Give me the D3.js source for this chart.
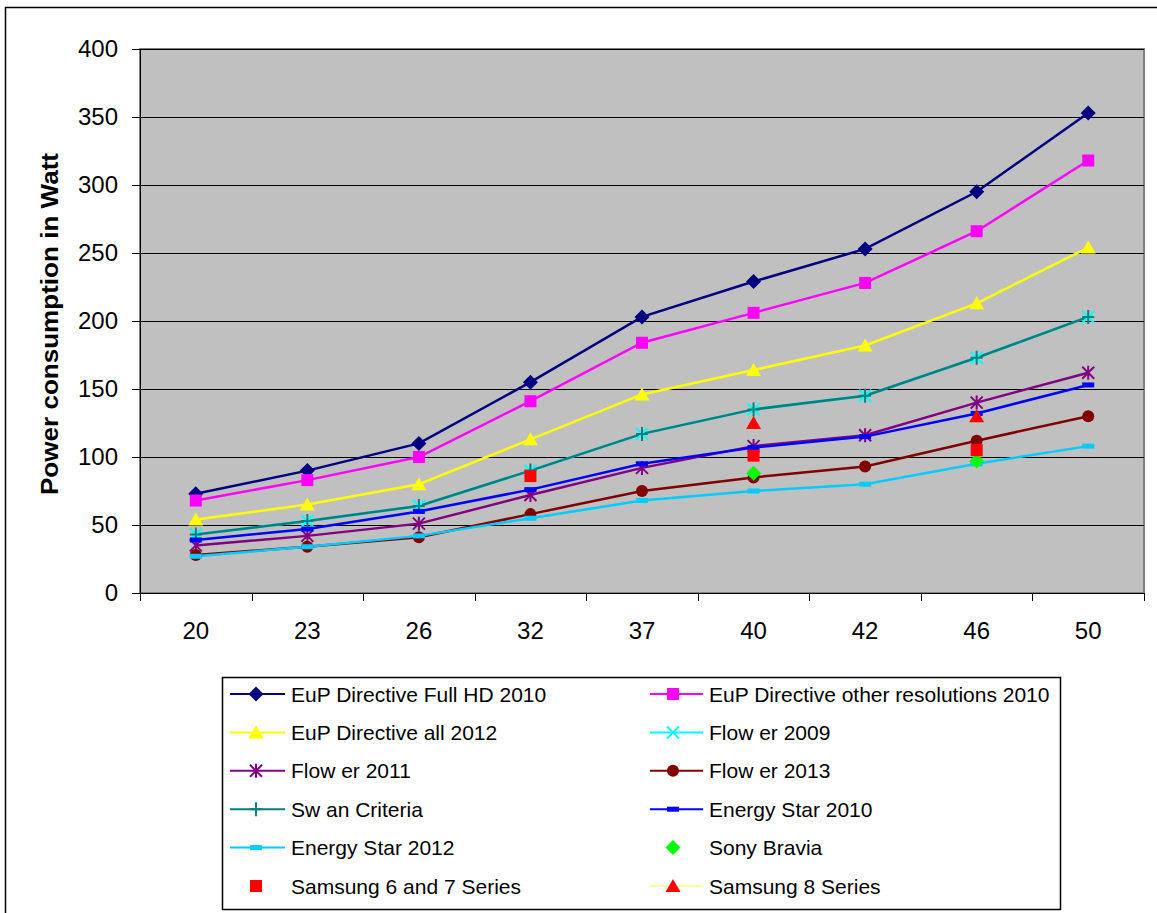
<!DOCTYPE html>
<html><head><meta charset="utf-8">
<script src="https://cdn.jsdelivr.net/npm/d3@7"></script>
<style>body{margin:0;background:#fff;}svg{display:block;font-family:Arial,"Liberation Sans",sans-serif;}</style>
</head><body><svg id="c" width="1157" height="913"></svg>
<script>
const categories = ["20","23","26","32","37","40","42","46","50"];
const yTicks = [0,50,100,150,200,250,300,350,400];
const eupFullHD2010 = [73,90,110,155,203,229,253,295,353];
const eupOther2010 = [68,83,100,141,184,206,228,266,318];
const eupAll2012 = [54,65,80,113,146,164,182,213,254];
const flower2009 = [43,53,64,90,117,135,145,173,203];
const flower2011 = [35,42,51,72,92,108,116,140,162];
const flower2013 = [28,34,41,58,75,85,93,112,130];
const swan = [43,53,64,90,117,135,145,173,203];
const es2010 = [39,47,60,76,95,107,115,132,153];
const es2012 = [27,34,42,55,68,75,80,95,108];
const sonyBravia = [null,null,null,null,null,88,null,97,null];
const samsung67 = [null,null,null,86,null,101,null,105,null];
const samsung8 = [null,null,null,null,null,125,null,130,null];

const series = [
 {name:"EuP Directive Full HD 2010", data:eupFullHD2010, color:"#000080", marker:"diamond", mcolor:"#000080", line:true},
 {name:"EuP Directive other resolutions 2010", data:eupOther2010, color:"#FF00FF", marker:"square", mcolor:"#FF00FF", line:true},
 {name:"EuP Directive all 2012", data:eupAll2012, color:"#FFFF00", marker:"triangle", mcolor:"#FFFF00", line:true},
 {name:"Flow er 2009", data:flower2009, color:"#00FFFF", marker:"x", mcolor:"#00FFFF", line:true},
 {name:"Flow er 2011", data:flower2011, color:"#800080", marker:"star", mcolor:"#800080", line:true},
 {name:"Flow er 2013", data:flower2013, color:"#800000", marker:"circle", mcolor:"#800000", line:true},
 {name:"Sw an Criteria", data:swan, color:"#008080", marker:"plus", mcolor:"#008080", line:true},
 {name:"Energy Star 2010", data:es2010, color:"#0000FF", marker:"dash", mcolor:"#0000FF", line:true},
 {name:"Energy Star 2012", data:es2012, color:"#00CCFF", marker:"dash", mcolor:"#00CCFF", line:true},
 {name:"Sony Bravia", data:sonyBravia, color:"none", marker:"diamond", mcolor:"#00FF00", line:false},
 {name:"Samsung 6 and 7 Series", data:samsung67, color:"none", marker:"square", mcolor:"#FF0000", line:false},
 {name:"Samsung 8 Series", data:samsung8, color:"#FFFF99", marker:"triangle", mcolor:"#FF0000", line:true}
];

const svg = d3.select("#c");
svg.append("rect").attr("x",5.5).attr("y",7.5).attr("width",1160).attr("height",920)
  .attr("fill","#fff").attr("stroke","#000").attr("stroke-width",1.5);

const L=140, R=1144, T=49, B=593;
const x = d3.scaleBand().domain(categories).range([L,R]);
const y = d3.scaleLinear().domain([0,400]).range([B,T]);

svg.append("rect").attr("x",L).attr("y",T).attr("width",R-L).attr("height",B-T)
  .attr("fill","#C0C0C0").attr("stroke","#808080").attr("stroke-width",2);

svg.append("g").selectAll("line").data(yTicks.filter(d=>d>0)).join("line")
  .attr("x1",L).attr("x2",R).attr("y1",d=>Math.round(y(d))+0.5).attr("y2",d=>Math.round(y(d))+0.5)
  .attr("stroke","#000").attr("stroke-width",1);

const ya = svg.append("g").attr("transform",`translate(${L},0)`)
  .call(d3.axisLeft(y).tickValues(yTicks).tickSize(8).tickPadding(14));
ya.select(".domain").attr("stroke","#000");
ya.selectAll("text").attr("font-size",24).attr("fill","#000").attr("font-family","Arial,'Liberation Sans',sans-serif");

svg.append("line").attr("x1",L).attr("x2",R).attr("y1",B+0.5).attr("y2",B+0.5).attr("stroke","#000");
const xb = categories.map(c=>x(c)).concat([R]);
svg.append("g").selectAll("line").data(xb).join("line")
  .attr("x1",d=>Math.round(d)+0.5).attr("x2",d=>Math.round(d)+0.5).attr("y1",B).attr("y2",B+8).attr("stroke","#000");
svg.append("g").selectAll("text").data(categories).join("text")
  .attr("x",d=>x(d)+x.bandwidth()/2).attr("y",639).attr("text-anchor","middle")
  .attr("font-size",24).attr("fill","#000").text(d=>d);

svg.append("text").attr("transform","translate(58,324) rotate(-90)").attr("text-anchor","middle")
  .attr("font-size",24).attr("font-weight","bold").attr("fill","#000")
  .attr("textLength",342).attr("lengthAdjust","spacingAndGlyphs").text("Power consumption in Watt");

function drawMarker(g, type, cx, cy, color, s){
  s = s||1;
  if(type==="diamond"){
    g.append("path").attr("d",`M${cx},${cy-7.5*s}L${cx+7.5*s},${cy}L${cx},${cy+7.5*s}L${cx-7.5*s},${cy}Z`).attr("fill",color);
  } else if(type==="square"){
    g.append("rect").attr("x",cx-6*s).attr("y",cy-6*s).attr("width",12*s).attr("height",12*s).attr("fill",color);
  } else if(type==="triangle"){
    g.append("path").attr("d",`M${cx},${cy-7*s}L${cx+7.5*s},${cy+6*s}L${cx-7.5*s},${cy+6*s}Z`).attr("fill",color);
  } else if(type==="circle"){
    g.append("circle").attr("cx",cx).attr("cy",cy).attr("r",6*s).attr("fill",color);
  } else if(type==="x"){
    g.append("path").attr("d",`M${cx-6},${cy-6}L${cx+6},${cy+6}M${cx-6},${cy+6}L${cx+6},${cy-6}`).attr("stroke",color).attr("stroke-width",2);
  } else if(type==="star"){
    g.append("path").attr("d",`M${cx-6},${cy-6}L${cx+6},${cy+6}M${cx-6},${cy+6}L${cx+6},${cy-6}M${cx},${cy-7}L${cx},${cy+7}`).attr("stroke",color).attr("stroke-width",2);
  } else if(type==="plus"){
    g.append("path").attr("d",`M${cx-6},${cy}L${cx+6},${cy}M${cx},${cy-7}L${cx},${cy+7}`).attr("stroke",color).attr("stroke-width",2);
  } else if(type==="dash"){
    g.append("rect").attr("x",cx-6).attr("y",cy-2.5).attr("width",12).attr("height",5).attr("fill",color);
  }
}

const cxOf = i => x(categories[i]) + x.bandwidth()/2;
const lines = svg.append("g");
series.forEach(s=>{
  if(!s.line) return;
  const ln = d3.line().defined(d=>d!=null).x((d,i)=>cxOf(i)).y(d=>y(d));
  lines.append("path").attr("d",ln(s.data)).attr("fill","none").attr("stroke",s.color).attr("stroke-width",2.5);
});
const marks = svg.append("g");
series.forEach(s=>{
  s.data.forEach((v,i)=>{ if(v!=null) drawMarker(marks, s.marker, cxOf(i), y(v), s.mcolor); });
});

const lg = svg.append("g");
lg.append("rect").attr("x",222.5).attr("y",677.5).attr("width",838).attr("height",232)
  .attr("fill","#fff").attr("stroke","#000").attr("stroke-width",1.5);
const colX = [230, 650], rowY0 = 694, rowH = 38.4;
series.forEach((s,i)=>{
  const c = i%2, r = Math.floor(i/2);
  const lx = colX[c], ly = rowY0 + r*rowH;
  const mx = c===0 ? 256 : 673;
  if(s.line){
    lg.append("line").attr("x1",lx).attr("x2",c===0?285:703).attr("y1",ly).attr("y2",ly).attr("stroke",s.color).attr("stroke-width",2);
  }
  drawMarker(lg, s.marker, mx, ly, s.mcolor);
  lg.append("text").attr("x",c===0?291:709).attr("y",ly+7.5).attr("font-size",21).attr("fill","#000").text(s.name);
});
</script></body></html>
